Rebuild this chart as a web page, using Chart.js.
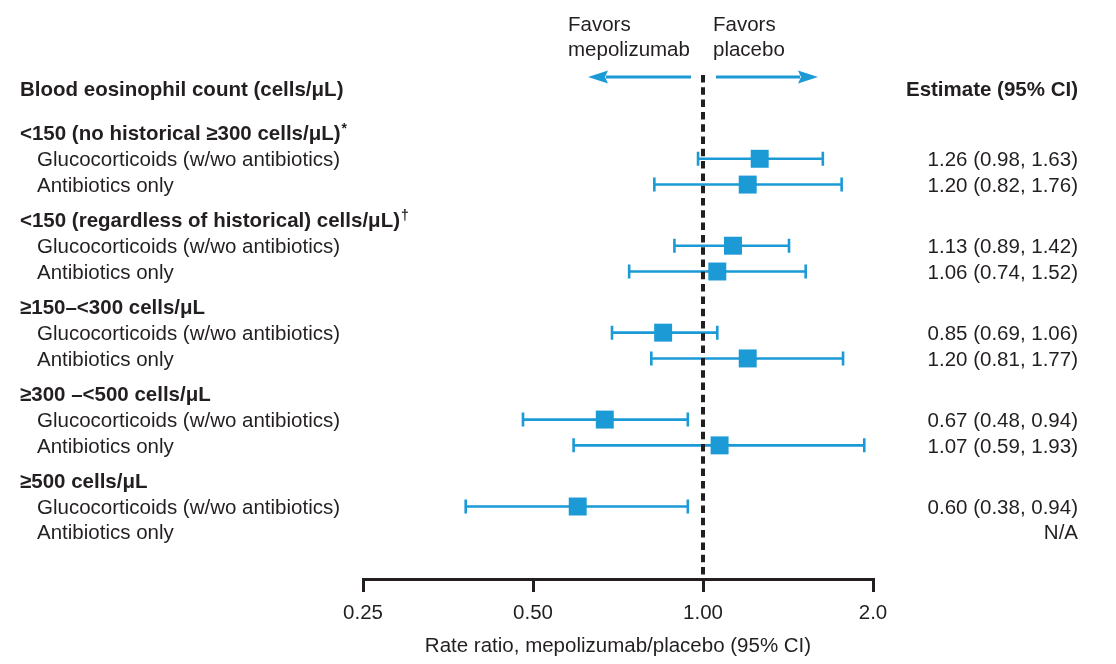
<!DOCTYPE html>
<html>
<head>
<meta charset="utf-8">
<script src="https://cdn.jsdelivr.net/npm/chart.js@4.4.1/dist/chart.umd.min.js"></script>
<style>
  html, body { margin: 0; padding: 0; background: #ffffff; }
  #wrap { width: 1116px; height: 664px; }
</style>
</head>
<body>
<div id="wrap"><canvas id="c" width="1116" height="664"></canvas></div>
<script>
// ---------- data ----------
const groupLabels = [
  '<150 (no historical \u2265300 cells/\u03bcL)',
  '<150 (regardless of historical) cells/\u03bcL)',
  '\u2265150\u2013<300 cells/\u03bcL',
  '\u2265300 \u2013<500 cells/\u03bcL',
  '\u2265500 cells/\u03bcL'
];
const groupNotes = ['*', '\u2020', '', '', ''];
const subLabels = ['Glucocorticoids (w/wo antibiotics)', 'Antibiotics only'];

const glucoEst = [1.26, 1.13, 0.85, 0.67, 0.60];
const glucoLo  = [0.98, 0.89, 0.69, 0.48, 0.38];
const glucoHi  = [1.63, 1.42, 1.06, 0.94, 0.94];

const antibEst = [1.20, 1.06, 1.20, 1.07, null];
const antibLo  = [0.82, 0.74, 0.81, 0.59, null];
const antibHi  = [1.76, 1.52, 1.77, 1.93, null];

const tickValues = [0.25, 0.5, 1, 2];
const tickLabels = ['0.25', '0.50', '1.00', '2.0'];

const leftHeader = 'Blood eosinophil count (cells/\u03bcL)';
const rightHeader = 'Estimate (95% CI)';
const xTitle = 'Rate ratio, mepolizumab/placebo (95% CI)';
const favorsLeft = ['Favors', 'mepolizumab'];
const favorsRight = ['Favors', 'placebo'];

// ---------- layout helpers ----------
const GROUP_STEP = 3.37;
const HEADER_ROW = -1.7;
function yFor(g, sub) { return g * GROUP_STEP + sub; }

const BLUE = '#1b9ad6';
const INK = '#231f20';
const FONT = '"Liberation Sans", Arial, Helvetica, sans-serif';
const FS = 20.5;
const TY = 1.5; // baseline nudge for row text

function fmt(e, l, h) {
  if (e == null) return 'N/A';
  return e.toFixed(2) + ' (' + l.toFixed(2) + ', ' + h.toFixed(2) + ')';
}

function mkData(est, lo, hi, sub) {
  const out = [];
  est.forEach((v, g) => {
    if (v != null) out.push({ x: v, y: yFor(g, sub), lo: lo[g], hi: hi[g] });
  });
  return out;
}

const forestPlugin = {
  id: 'forest',
  beforeDatasetsDraw(chart) {
    const { ctx, chartArea } = chart;
    const xs = chart.scales.x, ys = chart.scales.y;
    ctx.save();
    // error bars
    ctx.strokeStyle = BLUE;
    ctx.lineWidth = 2.6;
    chart.data.datasets.forEach(ds => {
      ds.data.forEach(p => {
        const y = ys.getPixelForValue(p.y);
        const x1 = xs.getPixelForValue(p.lo);
        const x2 = xs.getPixelForValue(p.hi);
        ctx.beginPath();
        ctx.moveTo(x1, y); ctx.lineTo(x2, y);
        ctx.moveTo(x1, y - 7); ctx.lineTo(x1, y + 7);
        ctx.moveTo(x2, y - 7); ctx.lineTo(x2, y + 7);
        ctx.stroke();
      });
    });
    // reference line at 1
    const x1 = Math.round(xs.getPixelForValue(1));
    ctx.strokeStyle = INK;
    ctx.lineWidth = 4;
    ctx.setLineDash([7.5, 4.8]);
    ctx.beginPath();
    ctx.moveTo(x1, chartArea.top - 2);
    ctx.lineTo(x1, chartArea.bottom);
    ctx.stroke();
    ctx.restore();
  },
  afterDraw(chart) {
    const { ctx } = chart;
    const xs = chart.scales.x, ys = chart.scales.y;
    const p1 = xs.getPixelForValue(1);
    ctx.save();
    ctx.fillStyle = INK;
    ctx.textBaseline = 'middle';

    // column headers
    const hy = ys.getPixelForValue(HEADER_ROW) + TY;
    ctx.font = 'bold ' + FS + 'px ' + FONT;
    ctx.textAlign = 'left';
    ctx.fillText(leftHeader, 20, hy);
    ctx.textAlign = 'right';
    ctx.fillText(rightHeader, 1078, hy);

    // rows
    groupLabels.forEach((lab, g) => {
      const gy = ys.getPixelForValue(yFor(g, 0)) + TY;
      ctx.font = 'bold ' + FS + 'px ' + FONT;
      ctx.textAlign = 'left';
      ctx.fillText(lab, 20, gy);
      if (groupNotes[g]) {
        const w = ctx.measureText(lab).width;
        ctx.font = 'bold 14px ' + FONT;
        ctx.fillText(groupNotes[g], 20 + w + 1, gy - 5);
      }
      ctx.font = FS + 'px ' + FONT;
      [[glucoEst, glucoLo, glucoHi], [antibEst, antibLo, antibHi]].forEach((arr, s) => {
        const ry = ys.getPixelForValue(yFor(g, s + 1)) + TY;
        ctx.textAlign = 'left';
        ctx.fillText(subLabels[s], 37, ry);
        ctx.textAlign = 'right';
        ctx.fillText(fmt(arr[0][g], arr[1][g], arr[2][g]), 1078, ry);
      });
    });

    // favors labels
    ctx.font = FS + 'px ' + FONT;
    ctx.textAlign = 'left';
    ctx.fillText(favorsLeft[0], p1 - 135, 25);
    ctx.fillText(favorsLeft[1], p1 - 135, 50);
    ctx.fillText(favorsRight[0], p1 + 10, 25);
    ctx.fillText(favorsRight[1], p1 + 10, 50);

    // arrows
    const ay = 77;
    function arrow(xTail, xTip) {
      const dir = Math.sign(xTip - xTail);
      const hl = 20, hh = 6.5;
      ctx.strokeStyle = BLUE;
      ctx.fillStyle = BLUE;
      ctx.lineWidth = 3;
      ctx.beginPath();
      ctx.moveTo(xTail, ay);
      ctx.lineTo(xTip - dir * hl + dir * 2, ay);
      ctx.stroke();
      ctx.beginPath();
      ctx.moveTo(xTip, ay);
      ctx.lineTo(xTip - dir * hl, ay - hh);
      ctx.lineTo(xTip - dir * (hl - 3), ay);
      ctx.lineTo(xTip - dir * hl, ay + hh);
      ctx.closePath();
      ctx.fill();
    }
    arrow(p1 - 12, p1 - 115);
    arrow(p1 + 13, p1 + 115);
    ctx.restore();
  }
};

new Chart(document.getElementById('c'), {
  type: 'scatter',
  data: {
    datasets: [
      {
        label: subLabels[0],
        data: mkData(glucoEst, glucoLo, glucoHi, 1),
        pointStyle: 'rect', radius: 12.7, hoverRadius: 12.7,
        backgroundColor: BLUE, borderColor: BLUE, borderWidth: 0
      },
      {
        label: subLabels[1],
        data: mkData(antibEst, antibLo, antibHi, 2),
        pointStyle: 'rect', radius: 12.7, hoverRadius: 12.7,
        backgroundColor: BLUE, borderColor: BLUE, borderWidth: 0
      }
    ]
  },
  options: {
    responsive: false,
    devicePixelRatio: 1,
    animation: false,
    layout: { padding: { left: 363, right: 243, top: 77, bottom: 0 } },
    plugins: { legend: { display: false }, tooltip: { enabled: false } },
    scales: {
      x: {
        type: 'logarithmic',
        min: tickValues[0],
        max: tickValues[tickValues.length - 1],
        afterBuildTicks(scale) { scale.ticks = tickValues.map(v => ({ value: v })); },
        afterFit(scale) { scale.height = 85; },
        ticks: {
          autoSkip: false, maxRotation: 0, padding: 9,
          color: INK, font: { family: FONT, size: FS },
          callback(v, i) { return tickLabels[i]; }
        },
        grid: { display: true, drawOnChartArea: false, drawTicks: true, tickLength: 13, color: INK, lineWidth: 3 },
        border: { display: true, color: INK, width: 3 },
        title: {
          display: true, text: xTitle, color: INK,
          font: { family: FONT, size: FS }, padding: { top: 0, bottom: 5 }
        }
      },
      y: {
        type: 'linear', display: false, reverse: true,
        min: -2.17, max: 17.29
      }
    }
  },
  plugins: [forestPlugin]
});
</script>
</body>
</html>
